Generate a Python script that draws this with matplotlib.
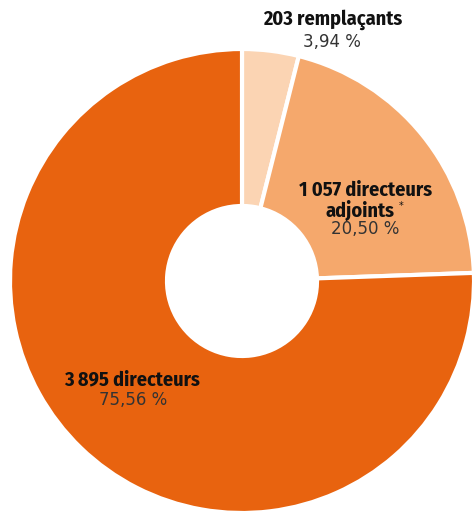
import matplotlib
matplotlib.use("Agg")
import matplotlib.pyplot as plt

# Data
labels = ["203 remplaçants", "1 057 directeurs\nadjoints", "3 895 directeurs"]
counts = [203, 1057, 3895]
percents = ["3,94 %", "20,50 %", "75,56 %"]
colors = ["#FBD4B3", "#F5A86C", "#E8630F"]

W, H = 472, 512
fig = plt.figure(figsize=(W / 100, H / 100), dpi=100)
ax = fig.add_axes([0, 0, 1, 1])
ax.axis("off")

# Donut, starting at 12 o'clock, going clockwise
cx, cy, r_out, r_in = 242, H - 281, 232, 75
ax.pie(counts, colors=colors, startangle=90, counterclock=False,
       center=(cx, cy), radius=r_out,
       wedgeprops=dict(width=r_out - r_in, edgecolor="white", linewidth=3))
ax.set_xlim(0, W)
ax.set_ylim(0, H)
ax.set_aspect("equal")

name_font = dict(family=["Fira Sans Condensed", "DejaVu Sans"], weight="bold",
                 size=14.5, color="#111111", ha="center", va="center")
pct_font = dict(family=["DejaVu Sans"], weight="normal", size=12,
                color="#333333", ha="center", va="center")

# Labels (pixel positions from top)
ax.text(333, H - 20, labels[0], **name_font)
ax.text(332, H - 42, percents[0], **pct_font)

ax.text(366, H - 190, "1 057 directeurs", **name_font)
ax.text(360, H - 210, "adjoints", **name_font)
ax.text(401, H - 206, "*", family=["DejaVu Sans"], size=7,
        color="#111111", ha="center", va="center")
ax.text(365, H - 229, percents[1], **pct_font)

ax.text(132, H - 380, labels[2], **name_font)
ax.text(133, H - 400, percents[2], **pct_font)

fig.savefig("out.png", dpi=100)
